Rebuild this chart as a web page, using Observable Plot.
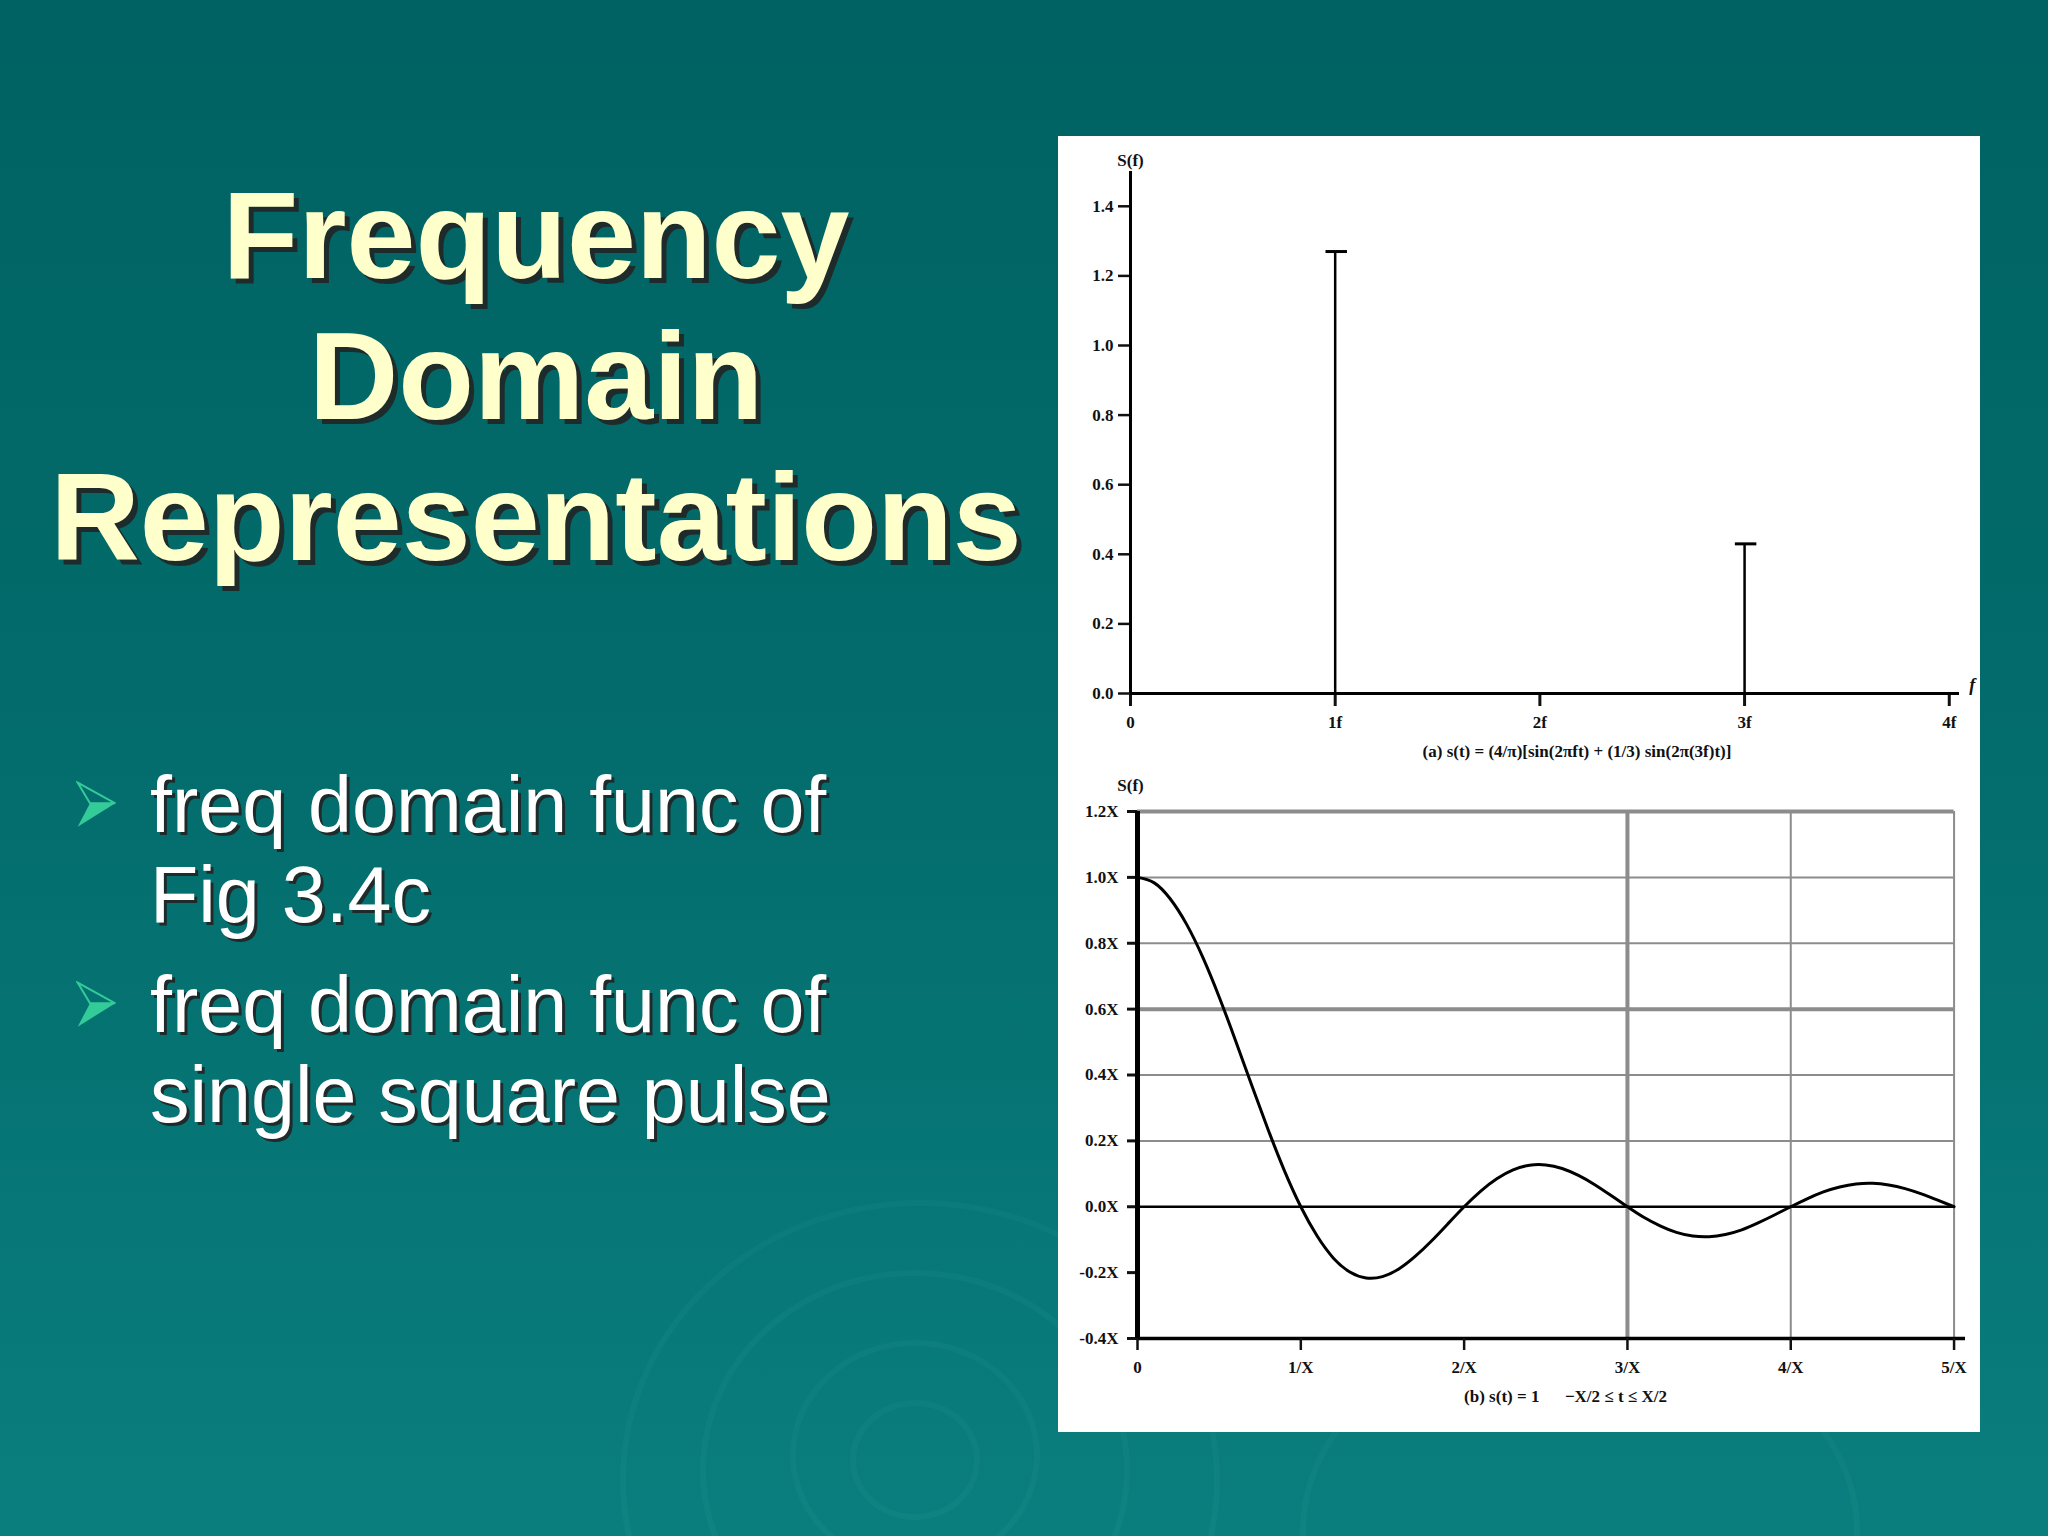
<!DOCTYPE html>
<html><head><meta charset="utf-8">
<script src="https://cdn.jsdelivr.net/npm/d3@7"></script>
<script src="https://cdn.jsdelivr.net/npm/@observablehq/plot@0.6"></script>
<style>
html,body{margin:0;padding:0;}
body{width:2048px;height:1536px;overflow:hidden;position:relative;
  background:linear-gradient(180deg,#006262 0%,#036b6b 45%,#0a7e7e 100%);
  font-family:"Liberation Sans",Arial,sans-serif;}
.ring{position:absolute;border-radius:50%;border:6px solid rgba(120,220,220,0.05);box-sizing:border-box;}
#title{position:absolute;left:-4px;top:165px;width:1080px;text-align:center;font-size:124px;line-height:141px;
  font-weight:bold;color:#ffffcc;text-shadow:5px 5px 0 #1f2a2a;}
.bullet{position:absolute;left:150px;font-size:79px;line-height:90px;color:#ffffff;text-shadow:3px 3px 0 #1f2a2a;white-space:nowrap;}
.arrow{position:absolute;left:76px;width:42px;height:48px;}
#panel{position:absolute;left:1058px;top:136px;width:922px;height:1296px;background:#ffffff;}
#topChart{position:absolute;left:0;top:0;}
#bottomChart{position:absolute;left:0;top:624px;}
</style></head>
<body>
<div class="ring" style="left:850px;top:1400px;width:130px;height:120px;"></div>
<div class="ring" style="left:790px;top:1340px;width:250px;height:230px;"></div>
<div class="ring" style="left:700px;top:1270px;width:430px;height:400px;"></div>
<div class="ring" style="left:620px;top:1200px;width:600px;height:560px;"></div>
<div class="ring" style="left:1300px;top:1320px;width:560px;height:420px;"></div>

<div id="title">Frequency<br>Domain<br>Representations</div>

<svg class="arrow" style="top:781px;" viewBox="0 0 42 48"><polygon points="1.7,1.7 39.3,22.3 14,22.3" fill="none" stroke="#33cc99" stroke-width="2"/><polygon points="14,22.3 39.3,22.3 1.7,45.7" fill="#33cc99"/></svg>
<div class="bullet" style="top:760px;">freq domain func of<br>Fig 3.4c</div>
<svg class="arrow" style="top:981px;" viewBox="0 0 42 48"><polygon points="1.7,1.7 39.3,22.3 14,22.3" fill="none" stroke="#33cc99" stroke-width="2"/><polygon points="14,22.3 39.3,22.3 1.7,45.7" fill="#33cc99"/></svg>
<div class="bullet" style="top:960px;">freq domain func of<br>single square pulse</div>

<div id="panel"><div id="topChart"></div><div id="bottomChart"></div></div>

<script>
// ---- chart (a): spectrum of s(t) = (4/π)[sin(2πft) + (1/3)sin(2π(3f)t)] ----
const topFreq = [1, 3];
const topAmp = [1.27, 0.43];
const topYTicks = [0, 0.2, 0.4, 0.6, 0.8, 1.0, 1.2, 1.4];
const topXTicks = [0, 1, 2, 3, 4];
const topXLabels = ["0", "1f", "2f", "3f", "4f"];
const topYLabel = "S(f)";
const topXLabel = "f";
const topCaption = "(a) s(t) = (4/π)[sin(2πft) + (1/3) sin(2π(3f)t)]";

// ---- chart (b): spectrum of single square pulse ----
const bottomFreq = [0.0,0.1,0.2,0.3,0.4,0.5,0.6,0.7,0.8,0.9,1.0,
  1.1,1.2,1.3,1.4,1.5,1.6,1.7,1.8,1.9,2.0,
  2.1,2.2,2.3,2.4,2.5,2.6,2.7,2.8,2.9,3.0,
  3.1,3.2,3.3,3.4,3.5,3.6,3.7,3.8,3.9,4.0,
  4.1,4.2,4.3,4.4,4.5,4.6,4.7,4.8,4.9,5.0];
const bottomAmp = [1.000,0.984,0.935,0.858,0.757,0.637,0.505,0.368,0.234,0.109,0.000,
  -0.089,-0.156,-0.198,-0.216,-0.212,-0.189,-0.151,-0.104,-0.052,0.000,
  0.047,0.085,0.112,0.126,0.127,0.116,0.095,0.067,0.034,0.000,
  -0.032,-0.058,-0.078,-0.089,-0.091,-0.084,-0.070,-0.049,-0.025,0.000,
  0.024,0.045,0.060,0.069,0.071,0.066,0.055,0.039,0.020,0.000];
const bottomYTicks = [-0.4, -0.2, 0, 0.2, 0.4, 0.6, 0.8, 1.0, 1.2];
const bottomYLabels = ["-0.4X", "-0.2X", "0.0X", "0.2X", "0.4X", "0.6X", "0.8X", "1.0X", "1.2X"];
const bottomXTicks = [0, 1, 2, 3, 4, 5];
const bottomXLabels = ["0", "1/X", "2/X", "3/X", "4/X", "5/X"];
const bottomGridY = [0.2, 0.4, 0.8, 1.0];
const bottomGridYHeavy = [0.6, 1.2];
const bottomGridX = [4, 5];
const bottomGridXHeavy = [3];
const bottomYLabel = "S(f)";
const bottomCaption = "(b) s(t) = 1      −X/2 ≤ t ≤ X/2";

const axisStyle = {background: "transparent", fontFamily: "'Liberation Serif', 'Times New Roman', serif",
  fontSize: "17px", fontWeight: "bold", color: "#111", overflow: "visible"};

const topData = topFreq.map((f, i) => ({f, a: topAmp[i]}));
const topPlot = Plot.plot({
  width: 922, height: 640,
  marginLeft: 72, marginRight: 21, marginTop: 35, marginBottom: 83,
  x: {domain: [0, 4.05]},
  y: {domain: [0, 1.5]},
  style: axisStyle,
  marks: [
    Plot.axisY({ticks: topYTicks, tickFormat: d3.format(".1f"), tickSize: 12, tickPadding: 5, strokeWidth: 2.5, label: null}),
    Plot.axisX({ticks: topXTicks, tickFormat: d => topXLabels[topXTicks.indexOf(d)], tickSize: 13, tickPadding: 9, strokeWidth: 3, label: null}),
    Plot.ruleX([0], {stroke: "#000", strokeWidth: 3}),
    Plot.ruleY([0], {stroke: "#000", strokeWidth: 3}),
    Plot.ruleX(topData, {x: "f", y1: 0, y2: "a", stroke: "#000", strokeWidth: 2.5}),
    Plot.ruleY(topData, {y: "a", x1: d => d.f - 0.045, x2: d => d.f + 0.06, stroke: "#000", strokeWidth: 3}),
    Plot.text([topYLabel], {frameAnchor: "top-left", textAnchor: "middle", dy: -18, fontSize: 17}),
    Plot.text([topXLabel], {x: () => topXTicks[topXTicks.length - 1], y: () => 0, dx: 20, dy: -8, textAnchor: "start", fontStyle: "italic", fontSize: 18}),
    Plot.text([topCaption], {frameAnchor: "bottom", dx: 32, dy: 63, fontSize: 17})
  ]
});
document.getElementById("topChart").appendChild(topPlot);

const bottomData = bottomFreq.map((f, i) => ({f, s: bottomAmp[i]}));
const xFirst = bottomXTicks[0], xLast = bottomXTicks[bottomXTicks.length - 1];
const bottomPlot = Plot.plot({
  width: 922, height: 660,
  marginLeft: 79, marginRight: 15, marginTop: 51, marginBottom: 82,
  x: {domain: [0, 5.07]},
  y: {domain: [-0.4, 1.2]},
  style: axisStyle,
  marks: [
    Plot.ruleY(bottomGridY, {x1: () => xFirst, x2: () => xLast, stroke: "#8c8c8c", strokeWidth: 2}),
    Plot.ruleY(bottomGridYHeavy, {x1: () => xFirst, x2: () => xLast, stroke: "#8c8c8c", strokeWidth: 4}),
    Plot.ruleX(bottomGridX, {stroke: "#8c8c8c", strokeWidth: 2}),
    Plot.ruleX(bottomGridXHeavy, {stroke: "#8c8c8c", strokeWidth: 4}),
    Plot.ruleY([0], {x1: () => xFirst, x2: () => xLast, stroke: "#000", strokeWidth: 2.5}),
    Plot.ruleY([-0.4], {stroke: "#000", strokeWidth: 3.5}),
    Plot.axisY({ticks: bottomYTicks, tickFormat: d => bottomYLabels[bottomYTicks.findIndex(t => Math.abs(t - d) < 1e-9)], tickSize: 10, tickPadding: 9, strokeWidth: 3, label: null}),
    Plot.axisX({ticks: bottomXTicks, tickFormat: d => bottomXLabels[bottomXTicks.indexOf(d)], tickSize: 12, tickPadding: 10, strokeWidth: 2.5, label: null}),
    Plot.ruleX([0], {stroke: "#000", strokeWidth: 5}),
    Plot.line(bottomData, {x: "f", y: "s", stroke: "#000", strokeWidth: 3, curve: "natural"}),
    Plot.text([bottomYLabel], {frameAnchor: "top-left", textAnchor: "middle", dx: -7, dy: -33, fontSize: 17}),
    Plot.text([bottomCaption], {frameAnchor: "bottom", dx: 14, dy: 63, fontSize: 17})
  ]
});
document.getElementById("bottomChart").appendChild(bottomPlot);
</script>
</body></html>
